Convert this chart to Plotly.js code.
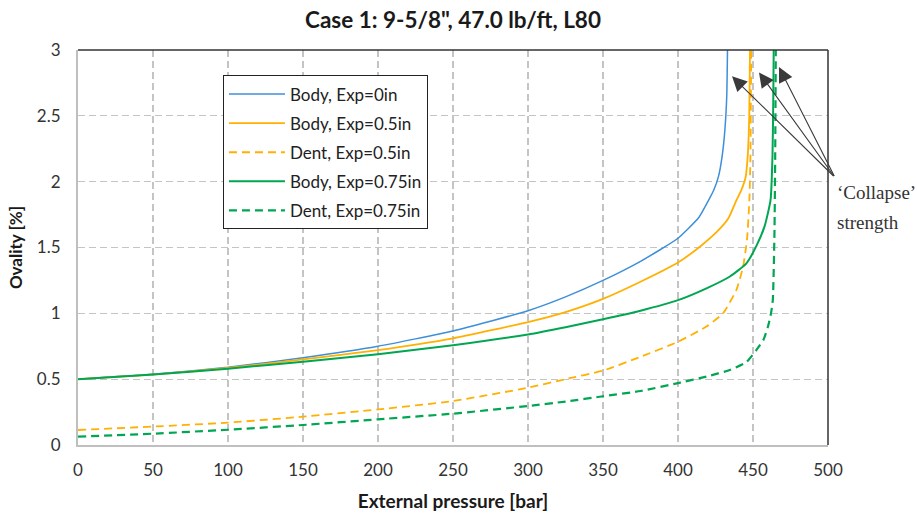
<!DOCTYPE html>
<html>
<head>
<meta charset="utf-8">
<script src="https://cdn.plot.ly/plotly-3.0.1.min.js"></script>
<style>html,body{margin:0;padding:0;background:#fff;}#chart{width:917px;height:513px;}</style>
</head>
<body>
<div id="chart"></div>
<script>
// External pressure [bar] and ovality [%]
const seriesNames = ["Body, Exp=0in", "Body, Exp=0.5in", "Dent, Exp=0.5in", "Body, Exp=0.75in", "Dent, Exp=0.75in"];

const body0X = [0, 50, 100, 150, 200, 250, 300, 325, 350, 375, 400, 414, 420, 424, 427, 429.5, 431.3, 432.5, 433];
const body0Y = [0.5, 0.537, 0.59, 0.663, 0.75, 0.866, 1.02, 1.125, 1.25, 1.395, 1.57, 1.73, 1.85, 1.94, 2.04, 2.2, 2.4, 2.65, 3.0];

const body05X = [0, 50, 100, 150, 200, 250, 300, 325, 350, 375, 400, 415, 426, 433.5, 439, 442, 445, 446.5, 447.5, 448];
const body05Y = [0.5, 0.535, 0.585, 0.65, 0.72, 0.81, 0.934, 1.01, 1.11, 1.24, 1.386, 1.51, 1.62, 1.72, 1.86, 1.93, 2.03, 2.2, 2.5, 3.0];

const dent05X = [0, 50, 100, 150, 200, 250, 300, 325, 350, 375, 400, 419, 430, 439, 443.4, 446, 447.6, 448.3, 448.8];
const dent05Y = [0.114, 0.14, 0.17, 0.215, 0.27, 0.334, 0.435, 0.5, 0.565, 0.67, 0.784, 0.9, 1.0, 1.18, 1.355, 1.56, 1.86, 2.2, 3.0];

const body075X = [0, 50, 100, 150, 200, 250, 300, 325, 350, 375, 400, 419, 434.6, 445.6, 452.2, 457.7, 461.7, 463, 463.5, 463.8];
const body075Y = [0.5, 0.535, 0.58, 0.633, 0.69, 0.757, 0.84, 0.895, 0.955, 1.02, 1.1, 1.19, 1.28, 1.38, 1.51, 1.66, 1.86, 2.2, 2.6, 3.0];

const dent075X = [0, 50, 100, 150, 200, 250, 300, 325, 350, 375, 400, 419, 434.6, 445.6, 452.2, 457, 460, 462, 463.2, 464.3, 464.8, 465.2];
const dent075Y = [0.063, 0.086, 0.116, 0.152, 0.195, 0.238, 0.296, 0.33, 0.37, 0.41, 0.47, 0.52, 0.57, 0.63, 0.72, 0.8, 0.9, 1.0, 1.1, 1.61, 2.2, 3.0];

const xTickVals = [0, 50, 100, 150, 200, 250, 300, 350, 400, 450, 500];
const yTickVals = [0, 0.5, 1, 1.5, 2, 2.5, 3];

// Arrow heads of the 'Collapse' strength callout (data coords)
const arrowHeadX = [436, 454, 467.3];
const arrowHeadY = [2.80, 2.83, 2.87];

const BLUE = "#3d8fd9", ORANGE = "#ffb000", GREEN = "#00a651";
const DASH = "8px,5px";

const traces = [
  {x: body0X, y: body0Y, name: seriesNames[0], line: {color: BLUE, width: 1.5}},
  {x: body05X, y: body05Y, name: seriesNames[1], line: {color: ORANGE, width: 1.8}},
  {x: dent05X, y: dent05Y, name: seriesNames[2], line: {color: ORANGE, width: 1.8, dash: DASH}},
  {x: body075X, y: body075Y, name: seriesNames[3], line: {color: GREEN, width: 2}},
  {x: dent075X, y: dent075Y, name: seriesNames[4], line: {color: GREEN, width: 2.2, dash: DASH}}
].map((t, i) => Object.assign(t, {type: "scatter", mode: "lines", legendgroup: "g" + i, line: Object.assign({shape: "spline", smoothing: 0.5}, t.line)}));

const tailPx = [835, 177];
const plotL = 78, plotW = 750, plotT = 49.5, plotH = 395.5;
const arrowAnns = arrowHeadX.map((hx, i) => {
  const hxPx = plotL + hx / 500 * plotW;
  const hyPx = plotT + (3 - arrowHeadY[i]) / 3 * plotH;
  return {
    x: hx, y: arrowHeadY[i], xref: "x", yref: "y",
    text: "", showarrow: true, arrowhead: 2, arrowsize: 2.7, arrowwidth: 1.1, arrowcolor: "#3a3a3a",
    axref: "pixel", ayref: "pixel", ax: tailPx[0] - hxPx, ay: tailPx[1] - hyPx
  };
});

const gridCol = "#c4c4c4";
const layout = {
  width: 917, height: 513,
  margin: {l: 78, r: 89, t: 49.5, b: 68},
  paper_bgcolor: "#fff", plot_bgcolor: "#fff",
  font: {family: "Lato, 'Open Sans', sans-serif", color: "#333"},
  title: {text: "Case 1: 9-5/8\", 47.0 lb/ft, L80", font: {family: "Lato", size: 22.5, color: "#1a1a1a", weight: "bold"}, xref: "paper", x: 0.5, xanchor: "center", y: 0.961, yanchor: "middle"},
  xaxis: {
    range: [0, 500], tickvals: xTickVals, ticks: "", ticklabelstandoff: 9,
    showgrid: true, gridcolor: gridCol, gridwidth: 1.3, griddash: "7px,4px",
    zeroline: false, showline: true, linecolor: "#bfbfbf", linewidth: 2,
    tickfont: {size: 17, color: "#333"},
    title: {text: "External pressure [bar]", font: {size: 19, color: "#1a1a1a", weight: "bold"}, standoff: 15}
  },
  yaxis: {
    range: [0, 3], tickvals: yTickVals, ticks: "", ticklabelstandoff: 12,
    showgrid: true, gridcolor: gridCol, gridwidth: 1.3, griddash: "7px,4px",
    zeroline: false, showline: true, linecolor: "#bfbfbf", linewidth: 2,
    tickfont: {size: 17, color: "#333"},
    title: {text: "Ovality [%]", font: {size: 17, color: "#1a1a1a", weight: "bold"}, standoff: 10}
  },
  showlegend: true,
  legend: {
    x: 0.193, y: 0.936, xanchor: "left", yanchor: "top",
    bgcolor: "#fff", bordercolor: "#222", borderwidth: 1.2,
    font: {size: 17, color: "#222"}, traceorder: "grouped", tracegroupgap: 4, itemwidth: 56
  },
  shapes: [
    {type: "line", xref: "paper", yref: "paper", x0: 0, x1: 1, y0: 1, y1: 1, line: {color: "#333", width: 1.5}},
    {type: "line", xref: "paper", yref: "paper", x0: 1, x1: 1, y0: 0, y1: 1, line: {color: "#333", width: 1.5}}
  ],
  annotations: arrowAnns.concat([
    {xref: "paper", yref: "paper", x: 1.0093, y: 0.64, xanchor: "left", yanchor: "middle", showarrow: false,
     text: "\u2018Collapse\u2019", font: {family: "'Liberation Serif', serif", size: 19, color: "#333"}},
    {xref: "paper", yref: "paper", x: 1.0093, y: 0.564, xanchor: "left", yanchor: "middle", showarrow: false,
     text: "strength", font: {family: "'Liberation Serif', serif", size: 19, color: "#333"}}
  ])
};

Plotly.newPlot("chart", traces, layout, {displayModeBar: false, staticPlot: true});
</script>
</body>
</html>
